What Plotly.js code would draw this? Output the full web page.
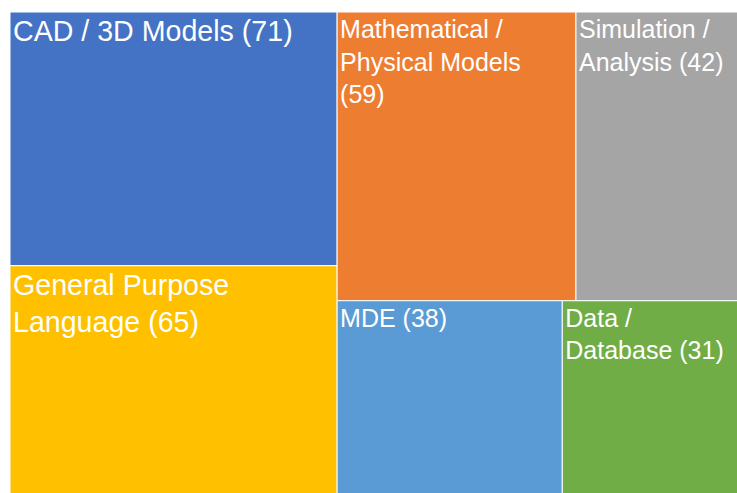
<!DOCTYPE html>
<html>
<head>
<meta charset="utf-8">
<script src="https://cdn.plot.ly/plotly-3.0.1.min.js"></script>
<style>
html, body { margin: 0; padding: 0; overflow: hidden; background: #ffffff; }
#chart { width: 746px; height: 498px; }
</style>
</head>
<body>
<div id="chart"></div>
<script>
const categories = ["CAD / 3D Models", "General Purpose Language", "Mathematical / Physical Models", "Simulation / Analysis", "MDE", "Data / Database"];
const displayLabels = ["CAD / 3D Models", "General Purpose<br>Language", "Mathematical /<br>Physical Models<br>", "Simulation /<br>Analysis", "MDE", "Data /<br>Database"];
const counts = [71, 65, 59, 42, 38, 31];
const tileColors = ["#4472C4", "#FFC000", "#ED7D31", "#A5A5A5", "#5B9BD5", "#70AD47"];
const fontSizes = [28.6, 28.6, 25, 25, 25, 25];

const texts = displayLabels.map((l, i) => l + (l.endsWith("<br>") ? "" : " ") + "(" + counts[i] + ")");

const trace = {
  type: "treemap",
  labels: categories,
  parents: categories.map(() => ""),
  values: counts,
  text: texts,
  textinfo: "text",
  textposition: "top left",
  sort: true,
  tiling: { packing: "squarify", squarifyratio: 1, pad: 0 },
  pathbar: { visible: false },
  marker: { colors: tileColors, line: { color: "#ffffff", width: 1 }, pad: { t: 0, l: 0, r: 0, b: 0 } },
  textfont: { family: "Arial, 'Liberation Sans', sans-serif", color: "#ffffff", size: fontSizes },
  hoverinfo: "label+value"
};

const layout = {
  width: 746,
  height: 498,
  margin: { l: 10, t: 12, r: 0, b: 0, pad: 0 },
  paper_bgcolor: "#ffffff",
  showlegend: false,
  uniformtext: { mode: false }
};

Plotly.newPlot("chart", [trace], layout, { displayModeBar: false, staticPlot: true });
</script>
</body>
</html>
